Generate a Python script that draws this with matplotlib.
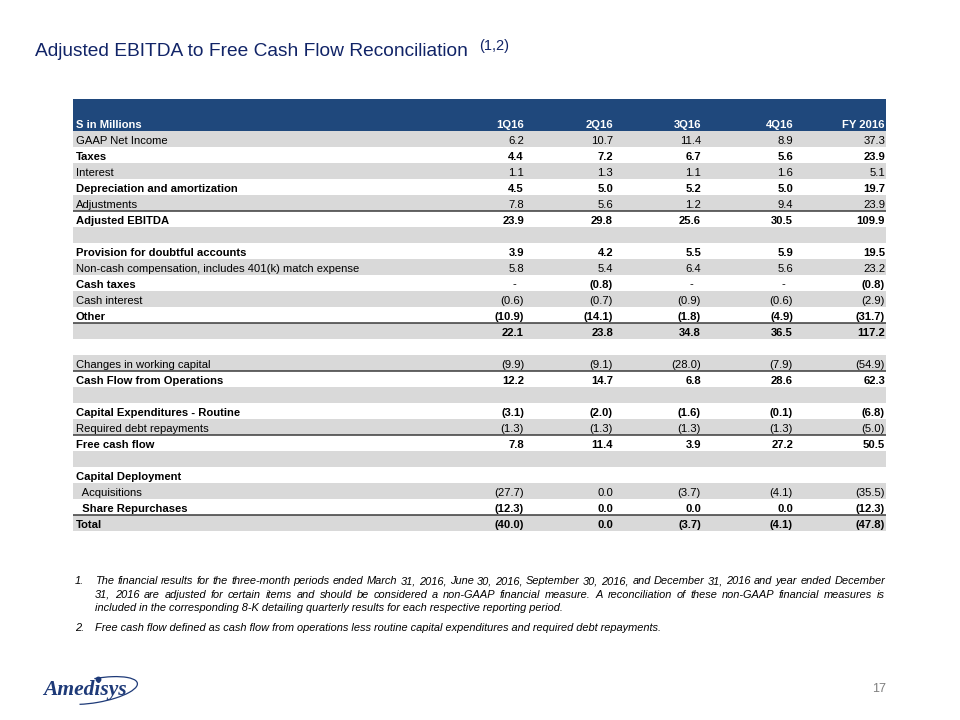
import matplotlib
matplotlib.use("Agg")
import matplotlib.pyplot as plt
from matplotlib.patches import Rectangle, Arc

plt.rcParams['font.family'] = ['Liberation Sans', 'DejaVu Sans']

# ---- data ----
col_labels = ['1Q16', '2Q16', '3Q16', '4Q16', 'FY 2016']
row_labels = ['GAAP Net Income', 'Taxes', 'Interest', 'Depreciation and amortization',
              'Adjustments', 'Adjusted EBITDA', '', 'Provision for doubtful accounts',
              'Non-cash compensation, includes 401(k) match expense', 'Cash taxes',
              'Cash interest', 'Other', '', '', 'Changes in working capital',
              'Cash Flow from Operations', '', 'Capital Expenditures - Routine',
              'Required debt repayments', 'Free cash flow', '', 'Capital Deployment',
              '  Acquisitions', '  Share Repurchases', 'Total']
D = '-'  # dash cell
q1 = [6.2, 4.4, 1.1, 4.5, 7.8, 23.9, None, 3.9, 5.8, D, -0.6, -10.9, 22.1, None,
      -9.9, 12.2, None, -3.1, -1.3, 7.8, None, None, -27.7, -12.3, -40.0]
q2 = [10.7, 7.2, 1.3, 5.0, 5.6, 29.8, None, 4.2, 5.4, -0.8, -0.7, -14.1, 23.8, None,
      -9.1, 14.7, None, -2.0, -1.3, 11.4, None, None, 0.0, 0.0, 0.0]
q3 = [11.4, 6.7, 1.1, 5.2, 1.2, 25.6, None, 5.5, 6.4, D, -0.9, -1.8, 34.8, None,
      -28.0, 6.8, None, -1.6, -1.3, 3.9, None, None, -3.7, 0.0, -3.7]
q4 = [8.9, 5.6, 1.6, 5.0, 9.4, 30.5, None, 5.9, 5.6, D, -0.6, -4.9, 36.5, None,
      -7.9, 28.6, None, -0.1, -1.3, 27.2, None, None, -4.1, 0.0, -4.1]
fy = [37.3, 23.9, 5.1, 19.7, 23.9, 109.9, None, 19.5, 23.2, -0.8, -2.9, -31.7, 117.2, None,
      -54.9, 62.3, None, -6.8, -5.0, 50.5, None, None, -35.5, -12.3, -47.8]
bold_rows = [1, 3, 5, 7, 9, 11, 12, 15, 17, 19, 21, 23, 24]
line_above = [5, 12, 15, 19, 24]

footnote1 = ["The financial results for the three-month periods ended  March 31, 2016, June 30, 2016, "
             "September 30, 2016, and December 31, 2016 and year ended December",
             "31, 2016 are adjusted for certain items and should be considered  a non-GAAP financial "
             "measure.  A reconciliation of these non-GAAP financial measures is",
             "included in the corresponding 8-K detailing quarterly results for each respective reporting period."]
footnote2 = "Free cash flow defined as cash flow from operations less routine capital expenditures and required debt repayments."

# ---- layout ----
NAVY = '#112467'
HEAD = '#1F487C'
GRAY = '#D9D9D9'
x0, x1 = 73, 886
top, head_h, row_h = 99, 32, 16
col_right = [524, 613, 701, 793, 885]
fs = 8.1

fig = plt.figure(figsize=(9.6, 7.2), dpi=100)
ax = fig.add_axes([0, 0, 1, 1])
ax.set_xlim(0, 960)
ax.set_ylim(720, 0)
ax.axis('off')

# title
ax.text(35, 56, 'Adjusted EBITDA to Free Cash Flow Reconciliation', fontsize=13.75,
        color=NAVY, va='baseline', ha='left')
ax.text(479, 50, '(1,2)', fontsize=10.5, color=NAVY, va='baseline', ha='left')

# header
ax.add_patch(Rectangle((x0, top), x1 - x0, head_h, color=HEAD, lw=0))
ax.text(76, top + 29, 'S in Millions', color='white', fontsize=fs, fontweight='bold',
        va='baseline')
for c, lab in enumerate(col_labels):
    ax.text(col_right[c], top + 29, lab, color='white', fontsize=fs, fontweight='bold',
            va='baseline', ha='right')


def fmt(v):
    if v is None:
        return ''
    if v == D:
        return '-'
    if v < 0:
        return '(%.1f)' % -v
    return '%.1f' % v


cols = [q1, q2, q3, q4, fy]
y_start = top + head_h
for i, lab in enumerate(row_labels):
    y = y_start + i * row_h
    if i % 2 == 0:
        ax.add_patch(Rectangle((x0, y), x1 - x0, row_h, color=GRAY, lw=0))
    w = 'bold' if i in bold_rows else 'normal'
    yb = y + 12.5
    ax.text(76, yb, lab, fontsize=fs, fontweight=w, va='baseline', ha='left', color='black')
    for c, vals in enumerate(cols):
        s = fmt(vals[i])
        if s == '-':
            ax.text(col_right[c] - 8, yb, s, fontsize=fs, va='baseline', ha='right')
        else:
            ax.text(col_right[c], yb, s, fontsize=fs, fontweight=w, va='baseline', ha='right')
for i in line_above:
    y = y_start + i * row_h
    ax.plot([x0, x1], [y, y], color='#3A3A3A', lw=1.1, solid_capstyle='butt')

# footnotes, justified
fig.canvas.draw()
rend = fig.canvas.get_renderer()
fn_kw = dict(fontsize=7.9, style='italic', color='black', va='baseline', ha='left')


def width_of(s):
    t = ax.text(0, 0, s, **fn_kw)
    w = t.get_window_extent(rend).width
    t.remove()
    return w


def justified(line, x, y, right):
    words = line.split()
    ws = [width_of(wd) for wd in words]
    gap = (right - x - sum(ws)) / (len(words) - 1)
    cx = x
    for wd, wdt in zip(words, ws):
        ax.text(cx, y, wd, **fn_kw)
        cx += wdt + gap


fn_y = [584, 597.5, 611]
ax.text(75, fn_y[0], '1.', **fn_kw)
justified(footnote1[0], 95, fn_y[0], 885)
justified(footnote1[1], 95, fn_y[1], 885)
ax.text(95, fn_y[2], footnote1[2], **fn_kw)
ax.text(75, 631, '2.', **fn_kw)
ax.text(95, 631, footnote2, **fn_kw)

# logo
LOGO = '#1E3A78'
ax.text(43, 695, 'Amedisys', family=['Liberation Serif', 'DejaVu Serif'], fontsize=15.5,
        fontweight='bold', style='italic', color=LOGO, va='baseline')
ax.add_patch(Arc((96, 690.5), 84, 24, angle=-10, theta1=-88, theta2=150,
                 color=LOGO, lw=0.9))
ax.plot([98], [678.5], 'o', ms=3.2, color=LOGO)
ax.text(886, 692, '17', fontsize=9, color='#7F7F7F', ha='right', va='baseline')

fig.savefig('out.png', dpi=100)
